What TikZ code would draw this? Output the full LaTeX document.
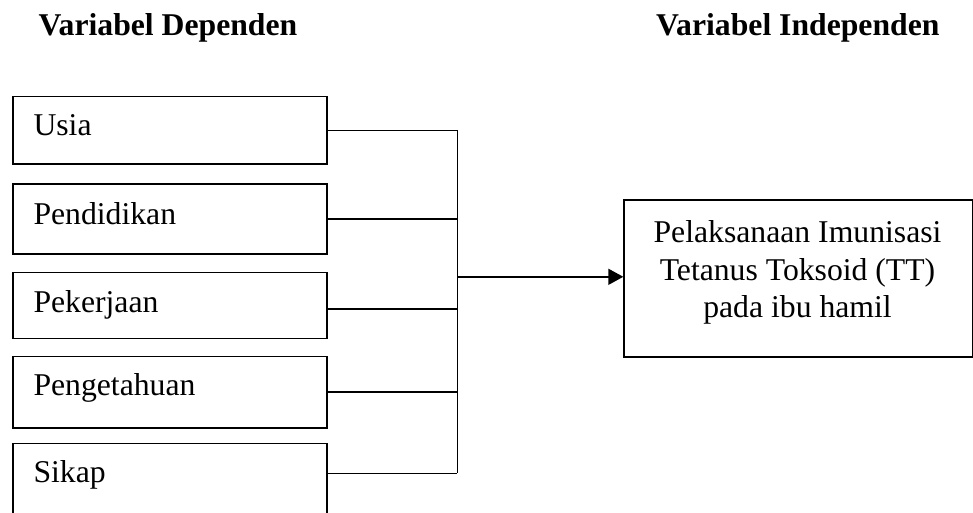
\documentclass[tikz,border=0pt]{standalone}
\usepackage{fontspec}
\setmainfont{Liberation Serif}
\usetikzlibrary{arrows.meta,calc}

\begin{document}
\begin{tikzpicture}[x=1pt,y=-1pt,
  txt/.style={font=\fontsize{31.7}{37.5}\selectfont, inner sep=0pt},
  head/.style={txt, font=\fontsize{31.7}{37.5}\selectfont\bfseries, anchor=base west},
  item/.style={txt, anchor=base west},
  varbox/.style={draw, line width=1.6pt, rectangle, inner sep=0pt, anchor=north west,
                 minimum width=314pt},
  link/.style={line width=1.5pt},
]
\clip (0,0) rectangle (973,512);

% column headings
\node[head] (hdep) at (38.5,35) {Variabel Dependen};
\node[head] (hind) at (656,35) {Variabel Independen};

% factor boxes
\node[varbox, minimum height=67.6pt] (b1) at (12,95.7) {};
\node[varbox, minimum height=70pt]   (b2) at (12,183.3) {};
\node[varbox, minimum height=66pt]   (b3) at (12,271.7) {};
\node[varbox, minimum height=71.3pt] (b4) at (12,355.7) {};
\node[varbox, minimum height=90pt]   (b5) at (12,442.7) {};

\node[item] (t1) at (33.3,135)   {Usia};
\node[item] (t2) at (33.3,224)   {Pendidikan};
\node[item] (t3) at (33.3,312.3) {Pekerjaan};
\node[item] (t4) at (33.3,395)   {Pengetahuan};
\node[item] (t5) at (33.3,482.5) {Sikap};

% outcome box
\node[draw, line width=1.6pt, rectangle, inner sep=0pt, anchor=north west,
      minimum width=348.4pt, minimum height=157pt] (out) at (623.3,199) {};
\node[txt, anchor=base] (o1) at (797.5,242.7) {Pelaksanaan Imunisasi};
\node[txt, anchor=base] (o2) at (797.5,280.2) {Tetanus Toksoid (TT)};
\node[txt, anchor=base] (o3) at (797.5,317.7) {pada ibu hamil};

% collecting bus
\coordinate (bustop) at (457.3,130);
\coordinate (busbot) at (457.3,473.3);

\draw[link] (b1.east) -- (b1.east -| bustop);
\draw[link] (b2.east) -- (b2.east -| bustop);
\draw[link] ([yshift=-3.6pt]b3.east) -- ([yshift=-3.6pt]b3.east -| bustop);
\draw[link] (b4.east) -- (b4.east -| bustop);
\draw[link] ([yshift=-30.6pt]b5.north east) -- ([yshift=-30.6pt]b5.north east -| bustop);
\draw[link] (bustop) -- (busbot);

\draw[link, -{Triangle[length=15pt,width=16pt]}] ([yshift=1.5pt]out.west -| bustop) -- ([yshift=1.5pt]out.west);
\end{tikzpicture}
\end{document}
